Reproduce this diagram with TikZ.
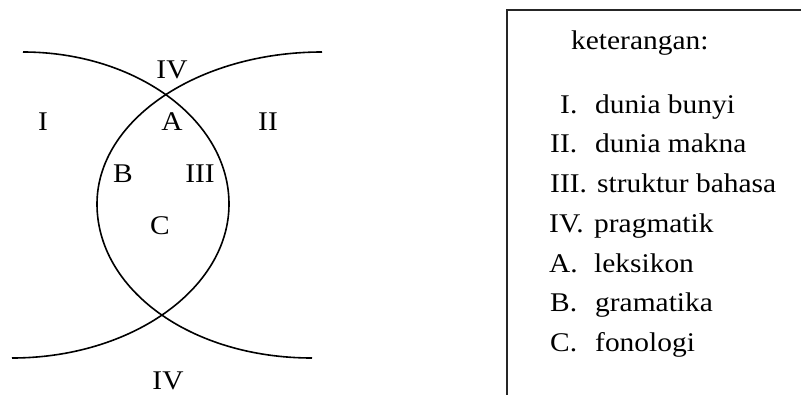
\documentclass[tikz,border=0pt]{standalone}
\usepackage{fontspec}
\setmainfont{Liberation Serif}[FakeStretch=1.09]
\begin{document}
\begin{tikzpicture}[x=1pt,y=-1pt,
  arcline/.style={line width=1.6pt,black},
  frame/.style={line width=1.6pt,black!85},
  lbl/.style={anchor=base,inner sep=0pt,font=\fontsize{27}{32}\selectfont},
  item/.style={anchor=base west,inner sep=0pt,font=\fontsize{27}{32}\selectfont}]
\useasboundingbox (0,0) rectangle (801,394);
\clip (0,0) rectangle (801,394);

% two crossing arcs forming the lens
\draw[arcline] (23,52) .. controls (136,52) and (229,120) .. (229,204)
               .. controls (229,289) and (131,358) .. (12,358);
\draw[arcline] (322,52) .. controls (198,52) and (97,120) .. (97,204)
               .. controls (97,289) and (190,358) .. (312,358);

% region labels
\node[lbl] (ivtop) at (172,78) {IV};
\node[lbl] (i) at (43,130) {I};
\node[lbl] (a) at (172,130) {A};
\node[lbl] (ii) at (268,130) {II};
\node[lbl] (b) at (123,182) {B};
\node[lbl] (iii) at (200,182) {III};
\node[lbl] (c) at (160,234) {C};
\node[lbl] (ivbot) at (168,389) {IV};

% legend frame (runs past the right and bottom edges)
\draw[frame] (507,420) -- (507,10) -- (830,10);

\node[item] (ket) at (571,49) {keterangan:};
\node[item] (k1) at (560,113) {I.};
\node[item] (k2) at (550,152.7) {II.};
\node[item] (k3) at (550,192.5) {III.};
\node[item] (k4) at (549,232.3) {IV.};
\node[item] (k5) at (549,272) {A.};
\node[item] (k6) at (550,311.8) {B.};
\node[item] (k7) at (550,351.6) {C.};
\node[item] (t1) at (595,113) {dunia bunyi};
\node[item] (t2) at (595,152.7) {dunia makna};
\node[item] (t3) at (597,192.5) {struktur bahasa};
\node[item] (t4) at (594,232.3) {pragmatik};
\node[item] (t5) at (594,272) {leksikon};
\node[item] (t6) at (595,311.8) {gramatika};
\node[item] (t7) at (595,351.6) {fonologi};
\end{tikzpicture}
\end{document}
